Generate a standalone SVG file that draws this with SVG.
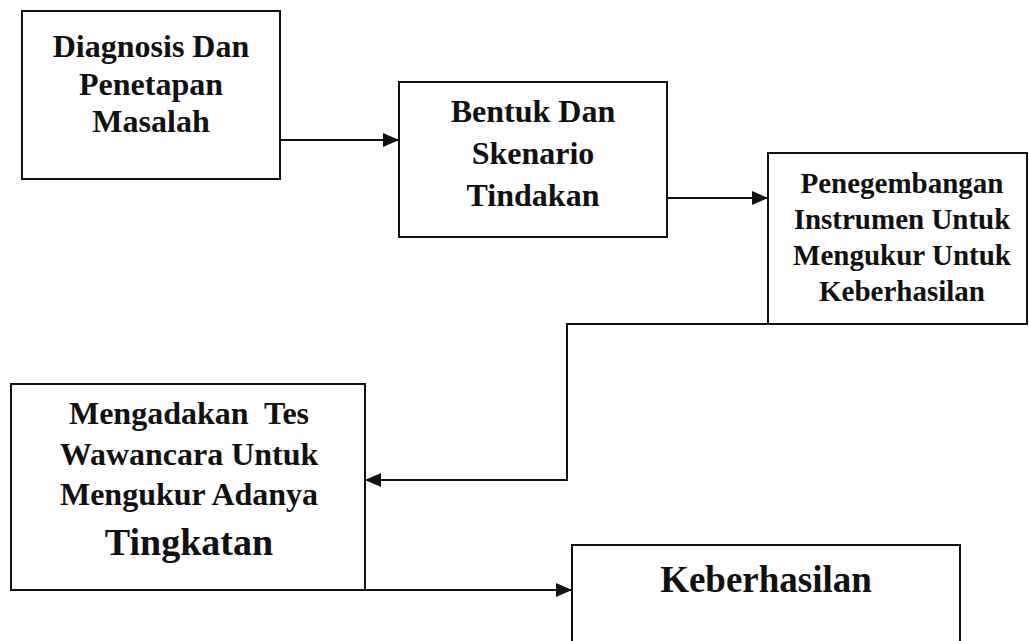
<svg xmlns="http://www.w3.org/2000/svg" width="1029" height="641" viewBox="0 0 1029 641">
<style>
.box{fill:#fff;stroke:#111;stroke-width:2}
.t{font-family:"Liberation Serif","Times New Roman",serif;font-weight:bold;fill:#111;text-anchor:middle}
.c{fill:none;stroke:#111;stroke-width:2}
</style>
<defs>
<marker id="ah" viewBox="0 0 16 14" refX="16" refY="7" markerWidth="16" markerHeight="14" markerUnits="userSpaceOnUse" orient="auto">
<path d="M0,0 L16,7 L0,14 Z" fill="#111"/>
</marker>
</defs>
<g id="n1">
<rect class="box" x="22" y="11" width="258" height="168"/>
<text class="t" font-size="32" x="151" y="57">Diagnosis Dan</text>
<text class="t" font-size="32" x="151" y="95">Penetapan</text>
<text class="t" font-size="32" x="151" y="132">Masalah</text>
</g>
<g id="n2">
<rect class="box" x="399" y="82" width="268" height="155"/>
<text class="t" font-size="32" x="533" y="122">Bentuk Dan</text>
<text class="t" font-size="32" x="533" y="164">Skenario</text>
<text class="t" font-size="32" x="533" y="206">Tindakan</text>
</g>
<g id="n3">
<rect class="box" x="768" y="153" width="259" height="171"/>
<text class="t" font-size="29" x="902" y="193">Penegembangan</text>
<text class="t" font-size="29" x="902" y="229">Instrumen Untuk</text>
<text class="t" font-size="29" x="902" y="265">Mengukur Untuk</text>
<text class="t" font-size="29" x="902" y="301">Keberhasilan</text>
</g>
<g id="n4">
<rect class="box" x="11" y="384" width="354" height="206"/>
<text class="t" font-size="32" x="189" y="424" xml:space="preserve">Mengadakan  Tes</text>
<text class="t" font-size="32" x="189" y="465">Wawancara Untuk</text>
<text class="t" font-size="32" x="189" y="505">Mengukur Adanya</text>
<text class="t" font-size="38" x="189" y="555">Tingkatan</text>
</g>
<g id="n5">
<rect class="box" x="572" y="545" width="388" height="110"/>
<text class="t" font-size="37" x="766" y="592">Keberhasilan</text>
</g>
<g id="connectors">
<path class="c" d="M280,140 H399" marker-end="url(#ah)"/>
<path class="c" d="M667,198 H768" marker-end="url(#ah)"/>
<path class="c" d="M768,324 H567 V480 H365" marker-end="url(#ah)"/>
<path class="c" d="M365,590 H572" marker-end="url(#ah)"/>
</g>
</svg>
